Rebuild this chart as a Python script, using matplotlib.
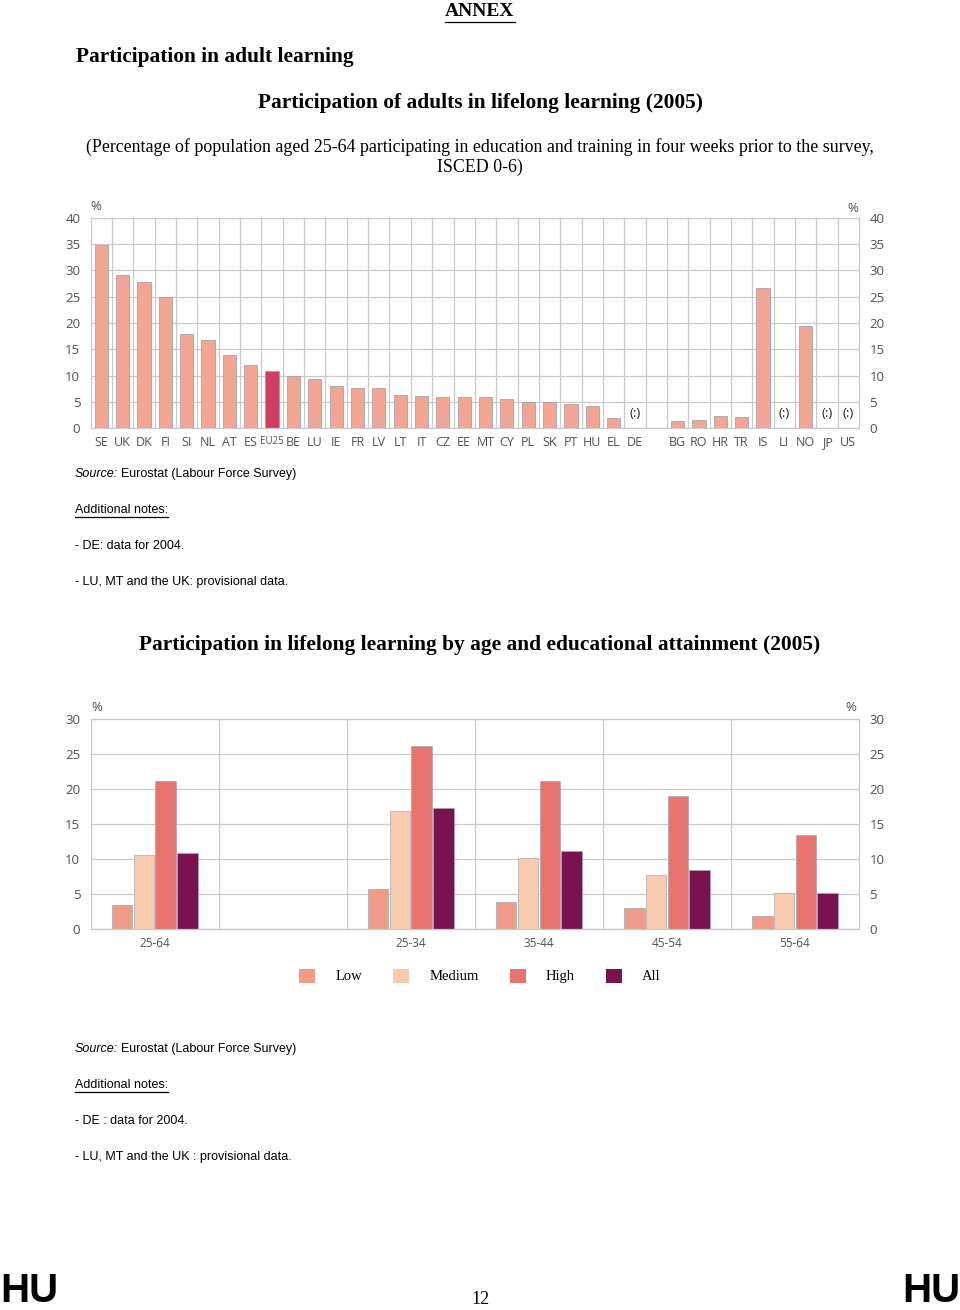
import numpy as np
import matplotlib
matplotlib.use("Agg")
import matplotlib.pyplot as plt
from matplotlib.lines import Line2D
from matplotlib.patches import Patch

plt.rcParams["figure.facecolor"] = "w"
plt.rcParams["font.family"] = "Liberation Sans"

W, H = 960, 1310

# ---------------- data ----------------
countries = ["SE", "UK", "DK", "FI", "SI", "NL", "AT", "ES", "EU25", "BE", "LU", "IE",
             "FR", "LV", "LT", "IT", "CZ", "EE", "MT", "CY", "PL", "SK", "PT", "HU",
             "EL", "DE", "",
             "BG", "RO", "HR", "TR", "IS", "LI", "NO", "JP", "US"]
rates = [34.8, 29.1, 27.7, 25.0, 17.9, 16.7, 13.9, 12.1, 10.8, 10.0, 9.4, 8.0,
         7.6, 7.6, 6.3, 6.2, 5.9, 5.9, 5.9, 5.6, 5.0, 5.0, 4.6, 4.2,
         1.9, np.nan, np.nan,
         1.3, 1.6, 2.3, 2.1, 26.6, np.nan, 19.4, np.nan, np.nan]
not_available = ["DE", "LI", "JP", "US"]

age_groups = ["25-64", "", "25-34", "35-44", "45-54", "55-64"]
low = [3.4, np.nan, 5.7, 3.9, 3.0, 1.9]
medium = [10.6, np.nan, 16.9, 10.2, 7.7, 5.2]
high = [21.1, np.nan, 26.1, 21.2, 19.0, 13.5]
all_levels = [10.8, np.nan, 17.3, 11.2, 8.5, 5.1]
levels = ["Low", "Medium", "High", "All"]

# ---------------- styles ----------------
grid_col = "#c9c9c9"
tick_col = "#505050"
bar_col = "#f2a594"
eu_col = "#cf3f63"
level_cols = ["#f09a87", "#f8cab0", "#e9736f", "#7a1150"]
chart_font = "Open Sans"
serif = "Liberation Serif"

fig = plt.figure(figsize=(W / 100, H / 100), dpi=100)


def fy(y):
    return 1 - y / H


def ftext(x, y, s, **kw):
    return fig.text(x / W, fy(y), s, **kw)


def style_axes(ax, ymax):
    ax.set_ylim(0, ymax)
    ax.set_yticks(np.arange(0, ymax + 1, 5))
    ax.tick_params(axis="y", left=False, right=False, labelleft=True, labelright=True,
                   labelsize=9.5, labelcolor=tick_col, pad=4)
    ax.tick_params(axis="x", which="both", bottom=False, labelsize=9, labelcolor=tick_col, pad=2)
    ax.grid(True, axis="y", color=grid_col, lw=0.9)
    ax.grid(True, axis="x", which="minor", color=grid_col, lw=0.9)
    ax.set_axisbelow(True)
    for s in ax.spines.values():
        s.set_color(grid_col)
        s.set_linewidth(0.9)
    for lab in ax.get_yticklabels():
        lab.set_fontfamily(chart_font)


# ---------------- top chart ----------------
ax1 = fig.add_axes([90.7 / W, fy(428.3), 768.3 / W, 210.6 / H])
x = np.arange(len(countries))
cols = [eu_col if c == "EU25" else bar_col for c in countries]
ax1.bar(x, rates, width=0.62, color=cols, edgecolor="#9a9a9a", linewidth=0.5)
ax1.set_xlim(-0.5, len(countries) - 0.5)
ax1.set_xticks(x)
ax1.set_xticklabels(countries, fontfamily=chart_font)
ax1.set_xticks(np.arange(0.5, len(countries) - 1, 1), minor=True)
style_axes(ax1, 40)
for lab in ax1.get_xticklabels():
    if lab.get_text() == "EU25":
        lab.set_fontsize(7)
for i, c in enumerate(countries):
    if c in not_available:
        ax1.text(i, 1.6, "(:)", ha="center", va="bottom", fontsize=9.5,
                 fontfamily=chart_font, color="#222222")
ftext(96, 207, "%", ha="center", va="center", fontsize=9.5, color=tick_col, fontfamily=chart_font)
ftext(853, 208, "%", ha="center", va="center", fontsize=9.5, color=tick_col, fontfamily=chart_font)

# ---------------- bottom chart ----------------
ax2 = fig.add_axes([90.7 / W, fy(929), 768.3 / W, 210 / H])
xg = np.arange(len(age_groups))
step = 0.17
for k, (name, vals) in enumerate(zip(levels, [low, medium, high, all_levels])):
    ax2.bar(xg + (k - 1.5) * step, vals, width=0.16, color=level_cols[k],
            edgecolor="#a8a8a8", linewidth=0.5, label=name)
ax2.set_xlim(-0.5, len(age_groups) - 0.5)
ax2.set_xticks(xg)
ax2.set_xticklabels(age_groups, fontfamily=chart_font)
ax2.set_xticks(np.arange(0.5, len(age_groups) - 1, 1), minor=True)
style_axes(ax2, 30)
ax2.tick_params(axis="x", labelsize=8.5)
ftext(97, 708, "%", ha="center", va="center", fontsize=9.5, color=tick_col, fontfamily=chart_font)
ftext(851, 708, "%", ha="center", va="center", fontsize=9.5, color=tick_col, fontfamily=chart_font)

handles = [Patch(facecolor=c, edgecolor="none") for c in level_cols]
fig.legend(handles, levels, loc="center", bbox_to_anchor=(0.5, fy(976)), ncol=4,
           frameon=False, handlelength=1.1, handleheight=1.1, handletextpad=1.4,
           columnspacing=2.1, prop={"family": serif, "size": 10.5})

# ---------------- page text ----------------
annex = ftext(480, 11, "ANNEX", ha="center", va="center", fontsize=14,
              fontfamily=serif, fontweight="bold")
ftext(76, 57, "Participation in adult learning", ha="left", va="center",
      fontsize=15.4, fontfamily=serif, fontweight="bold")
ftext(480, 103, "Participation of adults in lifelong learning (2005)", ha="center",
      va="center", fontsize=15.4, fontfamily=serif, fontweight="bold")
ftext(480, 147, "(Percentage of population aged 25-64 participating in education and training "
      "in four weeks prior to the survey,", ha="center", va="center", fontsize=12.85, fontfamily=serif)
ftext(480, 167, "ISCED 0-6)", ha="center", va="center", fontsize=12.85, fontfamily=serif)
ftext(480, 645, "Participation in lifelong learning by age and educational attainment (2005)",
      ha="center", va="center", fontsize=15.4, fontfamily=serif, fontweight="bold")

notes = []


def source_block(y0, de_txt, lu_txt):
    t = ftext(75, y0, "Source:", ha="left", va="center", fontsize=9, style="italic")
    fig.canvas.draw()
    bb = t.get_window_extent()
    fig.text(bb.x1 / W + 3 / W, fy(y0), "Eurostat (Labour Force Survey)", ha="left",
             va="center", fontsize=9)
    n = ftext(75, y0 + 36, "Additional notes:", ha="left", va="center", fontsize=9)
    notes.append(n)
    ftext(75, y0 + 72, de_txt, ha="left", va="center", fontsize=9)
    ftext(75, y0 + 108, lu_txt, ha="left", va="center", fontsize=9)


source_block(474, "- DE: data for 2004.", "- LU, MT and the UK: provisional data.")
source_block(1049, "- DE : data for 2004.", "- LU, MT and the UK : provisional data.")

ftext(0, 1291, "HU", ha="left", va="center", fontsize=29, fontweight="bold")
ftext(960, 1291, "HU", ha="right", va="center", fontsize=29, fontweight="bold")
ftext(480, 1299, "12", ha="center", va="center", fontsize=13, fontfamily=serif)

# underlines
fig.canvas.draw()
for t, off in [(annex, 2)] + [(n, 1) for n in notes]:
    bb = t.get_window_extent()
    yy = (bb.y0 - off) / H
    fig.add_artist(Line2D([bb.x0 / W, bb.x1 / W], [yy, yy], color="k", lw=0.9))

fig.savefig("out.png", dpi=100)
